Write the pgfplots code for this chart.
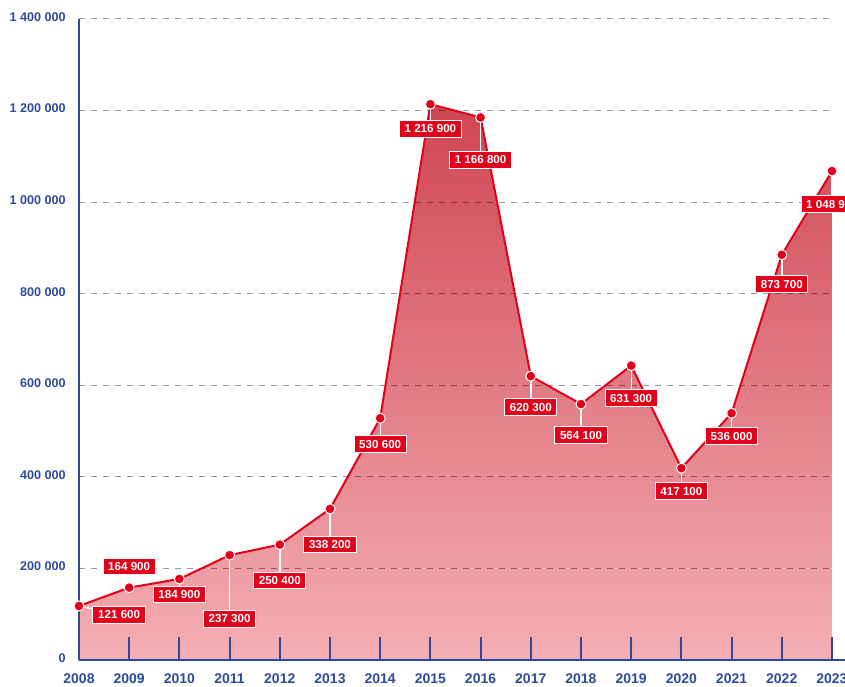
\documentclass[border=0pt]{standalone}
\usepackage{fontspec}
\setmainfont{Liberation Sans}
\usepackage{pgfplots}
\usepackage{pgfplotstable}
\pgfplotsset{compat=1.18}
\definecolor{myred}{HTML}{E2001A}
\definecolor{axisblue}{HTML}{2E4B9B}
\definecolor{filltop}{HTML}{CF4653}
\definecolor{fillbot}{HTML}{F4AFB4}

% x, plotted value, label text, label box centre (lx, ly)
\pgfplotstableread[col sep=comma]{
x,y,lbl,lx,ly
2008,118000,121 600,2008.8,99100
2009,158000,164 900,2009,204200
2010,177000,184 900,2010,142900
2011,229000,237 300,2011,90400
2012,252000,250 400,2012,173500
2013,330000,338 200,2013,252300
2014,528000,530 600,2014,471100
2015,1214000,1 216 900,2015,1160400
2016,1185000,1 166 800,2016,1092600
2017,620000,620 300,2017,552100
2018,559000,564 100,2018,490800
2019,643000,631 300,2019,571800
2020,419000,417 100,2020,368300
2021,539000,536 000,2021,488600
2022,885000,873 700,2022,821200
2023,1068000,1 048 900,2023,996300
}\pts

\pgfplotsset{frame/.style={scale only axis, width=376.5pt, height=320.5pt,
    xmin=2008, xmax=2023, ymin=0, ymax=1400000, clip=false}}

\begin{document}
\begin{tikzpicture}[
  lbl/.style={fill=myred, draw=white, line width=0.5pt, text=white,
    font=\bfseries\fontsize{5.8}{6}\selectfont,
    text height=4.2pt, text depth=0pt, inner xsep=2.6pt, inner ysep=2.1pt}]
% gradient under the curve (axis box starts at the origin)
\shade[top color=filltop, bottom color=fillbot] (0,0) rectangle (376.2pt,277.9pt);
% first axis: white cover above the curve
\begin{axis}[frame, hide axis]
\addplot[fill=white, draw=none, mark=none] table[x=x, y=y] {\pts}
  -- (axis cs:2023,1400000) -- (axis cs:2008,1400000) -- cycle;
\end{axis}
% second axis: grid, axes, line, labels
\begin{axis}[
    frame,
    axis lines*=left,
    axis line style={axisblue, line width=1pt},
    xtick={2008,...,2023},
    xticklabels={2008,2009,2010,2011,2012,2013,2014,2015,2016,2017,2018,2019,2020,2021,2022,2023},
    ytick={0,200000,400000,600000,800000,1000000,1200000,1400000},
    yticklabels={0,200 000,400 000,600 000,800 000,1 000 000,1 200 000,1 400 000},
    scaled y ticks=false,
    tick align=inside,
    major tick length=11.5pt,
    xtick style={axisblue, line width=1pt},
    ytick style={draw=none},
    x tick label style={font=\bfseries\fontsize{7}{8}\selectfont, text=axisblue,
      inner sep=0pt, anchor=north, yshift=-6.5pt},
    y tick label style={font=\bfseries\fontsize{6.3}{7}\selectfont, text=axisblue,
      inner sep=0pt, anchor=east, xshift=-6.5pt, yshift=1pt},
    ymajorgrids,
    major grid style={black, opacity=0.4, line width=0.5pt, dash pattern=on 3pt off 3pt},
]
\addplot[myred, line width=1pt, mark=none] table[x=x, y=y] {\pts};
% white connectors from point to label box
\addplot[white, line width=0.7pt, -, quiver={u=\thisrow{lx}-\thisrow{x}, v=\thisrow{ly}-\thisrow{y}}]
  table[x=x, y=y] {\pts};
% markers
\addplot[only marks, mark=*, mark size=2.5pt,
  mark options={fill=myred, draw=white, line width=0.5pt}]
  table[x=x, y=y] {\pts};
% label boxes
\addplot[draw=none, mark=none, point meta=explicit symbolic,
  nodes near coords, nodes near coords align={center},
  every node near coord/.append style={lbl, anchor=center}]
  table[x=lx, y=ly, meta=lbl] {\pts};
\coordinate (o) at (axis cs:2008,0);
\coordinate (e) at (axis cs:2023,0);
\end{axis}
\draw[axisblue, line width=1pt] (e) -- ++(7pt,0);
\pgfresetboundingbox
\path[use as bounding box] ([shift={(-39.5pt,-13pt)}]o) rectangle ([shift={(383pt,330pt)}]o);
\end{tikzpicture}
\end{document}
